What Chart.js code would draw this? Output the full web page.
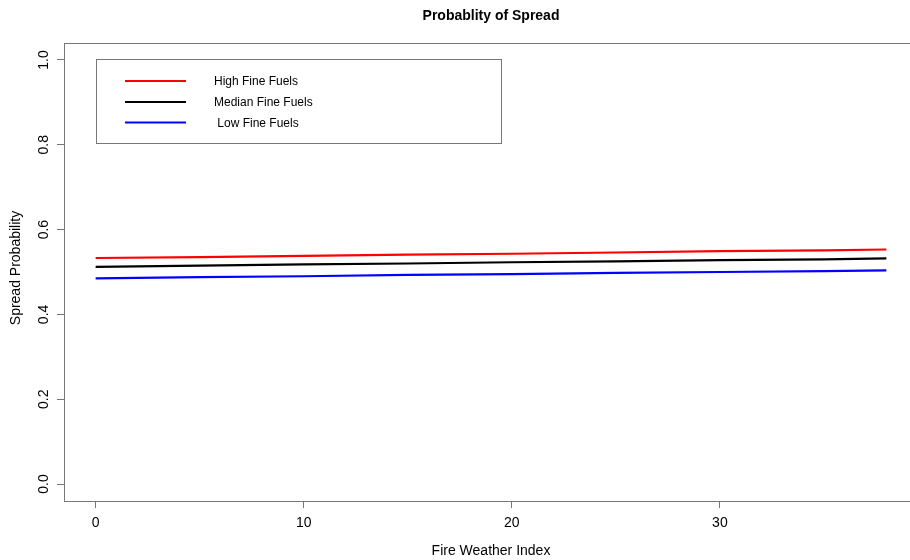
<!DOCTYPE html>
<html>
<head>
<meta charset="utf-8">
<script src="https://cdn.jsdelivr.net/npm/chart.js@4"></script>
<style>
  html, body { margin: 0; padding: 0; background: #fff; overflow: hidden; }
  #wrap { width: 910px; height: 560px; overflow: hidden; }
</style>
</head>
<body>
<div id="wrap"><canvas id="g1" width="930" height="560"></canvas></div>
<script>
// fire weather index values and modelled spread probabilities
var fwi = [0, 5, 10, 15, 20, 25, 30, 35, 38];
var highFuels = [0.533, 0.535, 0.538, 0.541, 0.543, 0.546, 0.549, 0.551, 0.553];
var medianFuels = [0.512, 0.515, 0.518, 0.520, 0.523, 0.525, 0.528, 0.530, 0.532];
var lowFuels = [0.485, 0.488, 0.490, 0.493, 0.495, 0.498, 0.500, 0.502, 0.504];

var seriesNames = ["High Fine Fuels", "Median Fine Fuels", " Low Fine Fuels"];
var xTicks = [0, 10, 20, 30];
var yTicks = [0, 0.2, 0.4, 0.6, 0.8, 1.0];

function pts(ys) {
  return fwi.map(function (x, i) { return { x: x, y: ys[i] }; });
}

var FONT = "'Liberation Sans', Arial, sans-serif";

// R-style box, rotated y labels, titles and legend
var baseGraphics = {
  id: 'baseGraphics',
  afterDraw: function (chart) {
    var c = chart.ctx, a = chart.chartArea, ys = chart.scales.y;
    c.save();
    c.strokeStyle = '#777';
    c.lineWidth = 1;
    c.strokeRect(a.left + 0.5, a.top + 0.5, a.right - a.left, a.bottom - a.top);

    c.fillStyle = '#000';
    c.font = '14px ' + FONT;
    c.textAlign = 'center';
    c.textBaseline = 'alphabetic';
    yTicks.forEach(function (v) {
      c.save();
      c.translate(48, ys.getPixelForValue(v));
      c.rotate(-Math.PI / 2);
      c.fillText(v.toFixed(1), 0, 0);
      c.restore();
    });

    c.save();
    c.translate(20, 268);
    c.rotate(-Math.PI / 2);
    c.fillText('Spread Probability', 0, 0);
    c.restore();

    c.fillText('Fire Weather Index', 491, 555);

    c.font = 'bold 14px ' + FONT;
    c.fillText('Probablity of Spread', 491, 20);

    // legend
    c.strokeStyle = '#777';
    c.strokeRect(96.5, 59.5, 405, 84);
    c.font = '12px ' + FONT;
    c.textAlign = 'left';
    var rows = [81, 102, 122.5];
    chart.data.datasets.forEach(function (ds, i) {
      c.strokeStyle = ds.borderColor;
      c.lineWidth = 2.2;
      c.beginPath();
      c.moveTo(125, rows[i]);
      c.lineTo(186, rows[i]);
      c.stroke();
      c.fillStyle = '#000';
      c.fillText(ds.label, 214, rows[i] + 4);
    });
    c.restore();
  }
};

var ctx = document.getElementById('g1').getContext('2d');
var myChart = new Chart(ctx, {
  type: 'line',
  data: {
    datasets: [{
      label: seriesNames[0],
      data: pts(highFuels),
      borderColor: '#ff0000',
      borderWidth: 2.2,
      pointRadius: 0,
      tension: 0
    }, {
      label: seriesNames[1],
      data: pts(medianFuels),
      borderColor: '#000000',
      borderWidth: 2.2,
      pointRadius: 0,
      tension: 0
    }, {
      label: seriesNames[2],
      data: pts(lowFuels),
      borderColor: '#0000ff',
      borderWidth: 2.2,
      pointRadius: 0,
      tension: 0
    }]
  },
  options: {
    responsive: false,
    animation: false,
    devicePixelRatio: 1,
    layout: { padding: { top: 43, right: 12, left: 0, bottom: 0 } },
    plugins: {
      legend: { display: false },
      title: { display: false },
      tooltip: { enabled: false }
    },
    scales: {
      x: {
        type: 'linear',
        min: -1.52,
        max: 39.52,
        afterBuildTicks: function (s) { s.ticks = xTicks.map(function (v) { return { value: v }; }); },
        afterFit: function (s) { s.height = 59; },
        border: { display: false },
        grid: { drawOnChartArea: false, drawTicks: true, tickLength: 7, color: '#777' },
        ticks: { padding: 7, color: '#000', font: { size: 14, family: FONT } }
      },
      y: {
        type: 'linear',
        min: -0.04,
        max: 1.04,
        afterBuildTicks: function (s) { s.ticks = yTicks.map(function (v) { return { value: v }; }); },
        afterFit: function (s) { s.width = 64; },
        border: { display: false },
        grid: { drawOnChartArea: false, drawTicks: true, tickLength: 7, color: '#777' },
        ticks: { display: false }
      }
    }
  },
  plugins: [baseGraphics]
});
</script>
</body>
</html>
